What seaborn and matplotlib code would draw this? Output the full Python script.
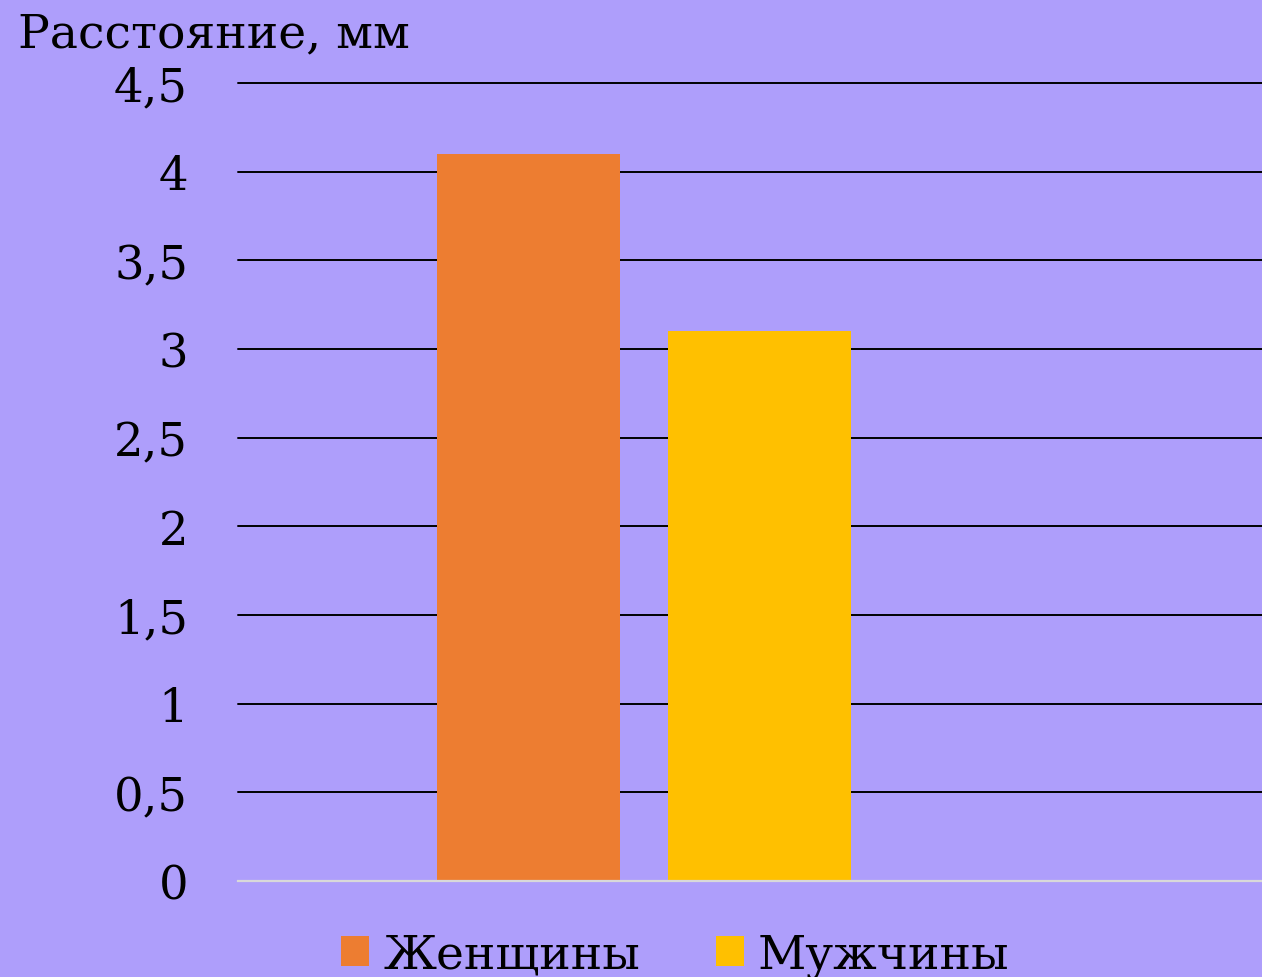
import matplotlib
matplotlib.use("Agg")
import matplotlib.pyplot as plt
import seaborn as sns
import pandas as pd
import numpy as np

categories = ["Расстояние"]
series = ["Женщины", "Мужчины"]
values = [4.1, 3.1]
colors = ["#ED7D31", "#FFC000"]
yticks = [0, 0.5, 1, 1.5, 2, 2.5, 3, 3.5, 4, 4.5]
ylabel = "Расстояние, мм"

sns.set_theme(style="white")
plt.rcParams['font.family'] = ['DejaVu Serif', 'DejaVu Sans']
plt.rcParams['text.color'] = 'black'

bg = "#AE9EFB"
df = pd.DataFrame({"cat": categories * len(series), "series": series, "value": values})

fig = plt.figure(figsize=(12.62, 9.78), dpi=100, facecolor=bg)
ax = fig.add_axes([238/1262, 96/978, 1 - 238/1262, 798/978])
ax.set_facecolor(bg)

sns.barplot(data=df, x="cat", y="value", hue="series", palette=colors,
            width=0.8, gap=0.21, saturation=1, ax=ax, legend=True, zorder=3,
            edgecolor="none", linewidth=0)

ax.set_xlim(-0.7015, 1.0678)
ax.set_ylim(0, 4.5)
ax.set_yticks(yticks)
ax.set_yticklabels([f"{t:g}".replace(".", ",") for t in yticks])
ax.tick_params(axis="y", length=0, pad=36, labelsize=33.5, labelcolor="black")
ax.set_xticks([])
ax.set_xlabel("")
ax.set_ylabel("")
for s in ["left", "right", "top"]:
    ax.spines[s].set_visible(False)
ax.spines["bottom"].set_color("#D9D9D9")
ax.spines["bottom"].set_linewidth(1.6)
ax.spines["bottom"].set_zorder(4)
for t in yticks[1:]:
    ax.axhline(t, color="black", lw=1.4, zorder=1, clip_on=False)

fig.text(18/1262, 1 - 35/978, ylabel, fontsize=34, va="center", ha="left", color="black")

handles, labels = ax.get_legend_handles_labels()
ax.get_legend().remove()
leg = fig.legend(handles, labels, loc="center", bbox_to_anchor=(0.535, 0.022), ncol=2,
                 frameon=False, fontsize=34, handlelength=0.6, handleheight=0.6,
                 handletextpad=0.3, columnspacing=1.6)
for txt in leg.get_texts():
    txt.set_color("black")

fig.savefig("out.png", dpi=100, facecolor=bg)
